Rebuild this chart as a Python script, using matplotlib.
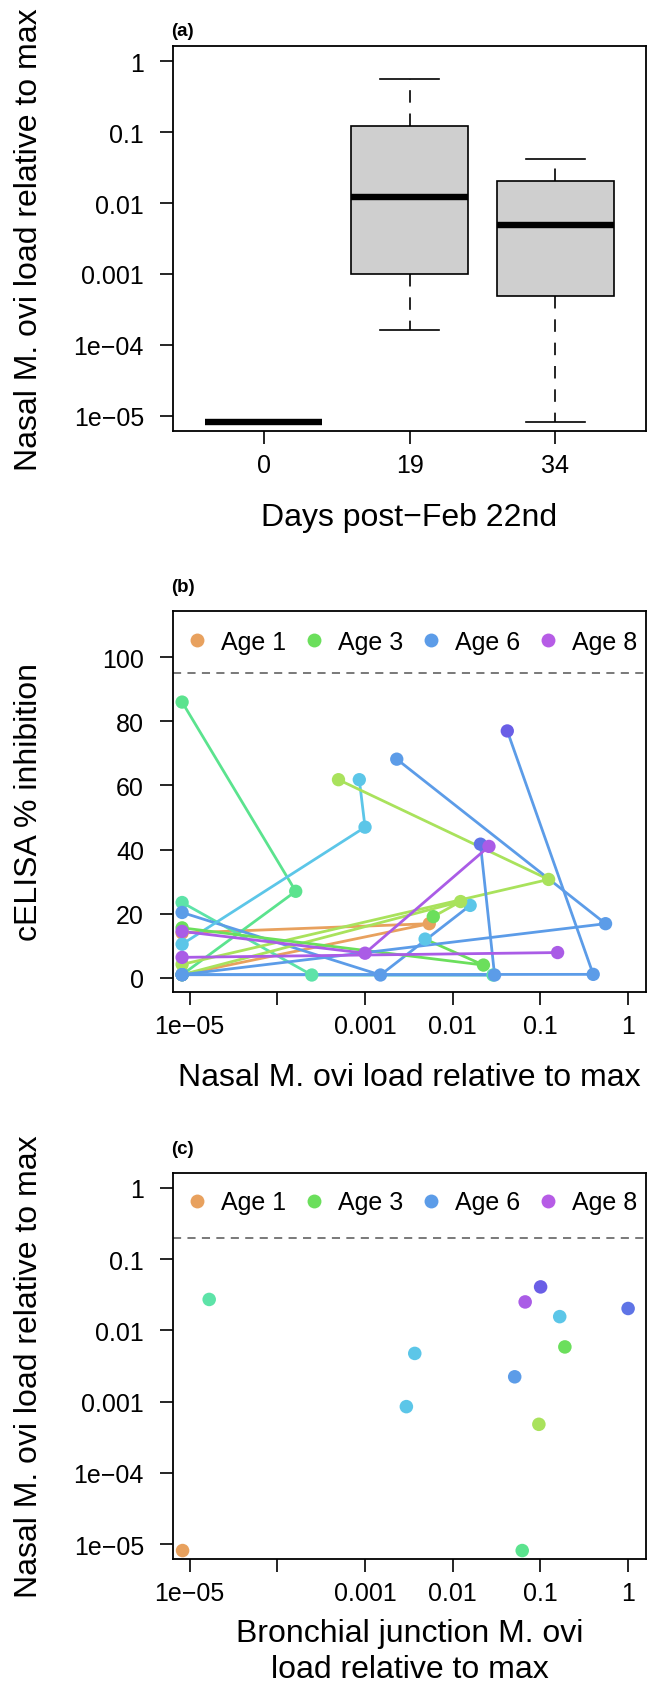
import numpy as np
import matplotlib.pyplot as plt
from matplotlib.lines import Line2D
from matplotlib.ticker import NullLocator

plt.rcParams['font.family'] = ['Liberation Sans', 'DejaVu Sans']

# ---- data ----
ZERO = 8.2e-6  # where zero loads are drawn on the log axis

# (a) boxplot stats, nasal load by day
days = ['0', '19', '34']
box_med = [ZERO, 0.0122, 0.00486]
box_q1 = [ZERO, 0.0010, 4.93e-4]
box_q3 = [ZERO, 0.121, 0.0204]
whisk_lo = [ZERO, 1.63e-4, 8.1e-6]
whisk_hi = [ZERO, 0.561, 0.0417]

# (b) one line per animal: day 0 -> day 19 -> day 34
ind_load = [
    [ZERO, 0.0054, ZERO],
    [ZERO, 1.62e-4, ZERO],
    [ZERO, 2.47e-4, 0.0288],
    [ZERO, 1.5e-3, 0.0158],
    [ZERO, 0.0010, 8.6e-4],
    [ZERO, 0.124, 4.98e-4],
    [ZERO, 0.0123, 0.0060],
    [ZERO, 0.0224, 0.00484],
    [ZERO, 0.553, 0.0023],
    [ZERO, 0.40, 0.0419],
    [ZERO, 0.030, 0.0207],
    [ZERO, 0.0010, 0.0259],
    [ZERO, 0.157],
]
ind_elisa = [
    [14.0, 16.9, 1.0],
    [86.0, 27.0, 1.0],
    [23.5, 0.9, 0.9],
    [20.4, 0.9, 22.6],
    [10.5, 47.0, 61.8],
    [4.2, 30.7, 61.8],
    [1.0, 23.8, 19.1],
    [15.6, 4.0, 12.1],
    [1.0, 16.9, 68.2],
    [1.0, 1.1, 77.0],
    [1.0, 0.9, 41.7],
    [14.5, 7.7, 41.0],
    [6.4, 7.9],
]

# (c) bronchial junction vs nasal load at necropsy
bronch_load = [8.3e-6, 1.67e-5, 3.69e-3, 2.96e-3, 0.0509, 0.067, 0.1005, 0.166, 0.19, 0.096, 0.062, 1.0]
nasal_load = [8.1e-6, 0.0272, 4.75e-3, 8.5e-4, 2.23e-3, 0.0251, 0.0408, 0.0156, 5.86e-3, 4.8e-4, 8.1e-6, 0.0203]

age_labels = ['Age 1', 'Age 3', 'Age 6', 'Age 8']

# colours
orange = '#E8A15E'
lgreen = '#A9E25C'
green = '#6BDF5C'
tgreen = '#5BE38E'
teal = '#5DE3A8'
cyan = '#5CC6E8'
blue = '#5C9CE8'
iblue = '#5F74E6'
indigo = '#6A5EE6'
purple = '#AA5CE6'
# line colour per animal, and colour of its last (day 34) point
ind_color = [orange, tgreen, teal, blue, cyan, lgreen, lgreen, green, blue, blue, blue, purple, purple]
end_color = [orange, tgreen, teal, cyan, cyan, lgreen, green, cyan, blue, indigo, iblue, purple, purple]
c_color = [orange, teal, cyan, cyan, blue, purple, indigo, cyan, green, lgreen, tgreen, iblue]
legend_color = [orange, green, blue, '#B65CE6']

TICK = 18
LAB = 23
log_ticks = [1e-5, 1e-4, 1e-3, 1e-2, 1e-1, 1]
log_lbls = ['1e\u221205', '1e\u221204', '0.001', '0.01', '0.1', '1']
log_lbls_x = ['1e\u221205', '', '0.001', '0.01', '0.1', '1']


def style_axes(ax):
    for s in ax.spines.values():
        s.set_linewidth(1.3)
    ax.tick_params(axis='both', direction='out', length=9.4, width=1.2, labelsize=TICK)
    ax.tick_params(axis='x', pad=6.5)
    ax.tick_params(axis='y', pad=11.5)


def add_legend(ax, ytop):
    hh = [Line2D([], [], marker='o', linestyle='None', markersize=10, markeredgewidth=0, color=c)
          for c in legend_color]
    ax.legend(hh, age_labels, ncol=4, loc='upper left', bbox_to_anchor=(0.029, ytop), frameon=False,
              fontsize=TICK, handlelength=0.8, handletextpad=0.56, columnspacing=0.72,
              borderaxespad=0, borderpad=0)


fig = plt.figure(figsize=(6.54, 16.83), dpi=100)
W, H = 654.0, 1683.0
left, right = 173, 646

# ---------------- (a) ----------------
ax1 = fig.add_axes([left / W, 1 - 431.7 / H, (right - left) / W, 384.4 / H])
stats = []
for i in range(len(days)):
    stats.append(dict(med=box_med[i], q1=box_q1[i], q3=box_q3[i], whislo=whisk_lo[i],
                      whishi=whisk_hi[i], fliers=[], label=days[i]))
ax1.set_yscale('log')
ax1.bxp(stats, positions=[1, 2, 3], widths=0.8, capwidths=0.4, patch_artist=True, showfliers=False,
        boxprops=dict(facecolor='#CFCFCF', edgecolor='black', linewidth=1.2),
        medianprops=dict(color='black', linewidth=4.6, solid_capstyle='butt'),
        whiskerprops=dict(color='black', linewidth=1.2, linestyle=(0, (7.5, 6.5))),
        capprops=dict(color='black', linewidth=1.2))
ax1.set_xlim(0.38, 3.62)
ax1.set_ylim(10 ** -5.21, 10 ** 0.21)
ax1.set_yticks(log_ticks)
ax1.set_yticklabels(log_lbls)
ax1.yaxis.set_minor_locator(NullLocator())
ax1.set_xticks([1, 2, 3])
ax1.set_xticklabels(days)
style_axes(ax1)
ax1.set_xlabel('Days post\u2212Feb 22nd', fontsize=LAB)
ax1.xaxis.set_label_coords(0.5, -86 / 384.4)
ax1.xaxis.label.set_va('center')
ax1.set_ylabel('Nasal M. ovi load relative to max', fontsize=LAB)
ax1.yaxis.set_label_coords(-144 / 473.0, 0.5)
ax1.yaxis.label.set_va('center')
ax1.text(-0.005, 1 + 15.6 / 384.4, '(a)', transform=ax1.transAxes, fontsize=13.5,
         fontweight='bold', ha='left', va='center')

# ---------------- (b) ----------------
ax2 = fig.add_axes([left / W, 1 - 993 / H, (right - left) / W, 381 / H])
ax2.set_xscale('log')
ax2.axhline(95, color='#6E6E6E', linewidth=1.3, linestyle=(0, (4.5, 3.5)))
for xs, ys, c, ce in zip(ind_load, ind_elisa, ind_color, end_color):
    ax2.plot(xs, ys, color=c, linewidth=2.0)
    pc = [c] * (len(xs) - 1) + [ce]
    ax2.scatter(xs, ys, c=pc, s=92, linewidths=0, zorder=3)
ax2.set_xlim(10 ** -5.19, 10 ** 0.204)
ax2.set_ylim(-4.4, 114.4)
ax2.set_xticks(log_ticks)
ax2.set_xticklabels(log_lbls_x)
ax2.xaxis.set_minor_locator(NullLocator())
ax2.set_yticks([0, 20, 40, 60, 80, 100])
style_axes(ax2)
add_legend(ax2, 0.950)
ax2.set_xlabel('Nasal M. ovi load relative to max', fontsize=LAB)
ax2.xaxis.set_label_coords(0.5, -85 / 381.0)
ax2.xaxis.label.set_va('center')
ax2.set_ylabel('cELISA % inhibition', fontsize=LAB)
ax2.yaxis.set_label_coords(-144 / 473.0, 0.5)
ax2.yaxis.label.set_va('center')
ax2.text(-0.005, 1 + 24.7 / 381, '(b)', transform=ax2.transAxes, fontsize=13.5,
         fontweight='bold', ha='left', va='center')

# ---------------- (c) ----------------
ax3 = fig.add_axes([left / W, 1 - 1560 / H, (right - left) / W, 386 / H])
ax3.set_xscale('log')
ax3.set_yscale('log')
ax3.axhline(0.2, color='#6E6E6E', linewidth=1.3, linestyle=(0, (4.5, 3.5)))
ax3.scatter(bronch_load, nasal_load, c=c_color, s=95, linewidths=0, zorder=3)
ax3.set_xlim(10 ** -5.19, 10 ** 0.204)
ax3.set_ylim(10 ** -5.21, 10 ** 0.21)
ax3.set_xticks(log_ticks)
ax3.set_xticklabels(log_lbls_x)
ax3.set_yticks(log_ticks)
ax3.set_yticklabels(log_lbls)
ax3.xaxis.set_minor_locator(NullLocator())
ax3.yaxis.set_minor_locator(NullLocator())
style_axes(ax3)
add_legend(ax3, 0.955)
ax3.set_xlabel('Bronchial junction M. ovi\nload relative to max', fontsize=LAB, linespacing=1.25)
ax3.xaxis.set_label_coords(0.5, -92 / 386.0)
ax3.xaxis.label.set_va('center')
ax3.set_ylabel('Nasal M. ovi load relative to max', fontsize=LAB)
ax3.yaxis.set_label_coords(-144 / 473.0, 0.5)
ax3.yaxis.label.set_va('center')
ax3.text(-0.005, 1 + 24.5 / 386, '(c)', transform=ax3.transAxes, fontsize=13.5,
         fontweight='bold', ha='left', va='center')

fig.savefig('out.png', dpi=100)
